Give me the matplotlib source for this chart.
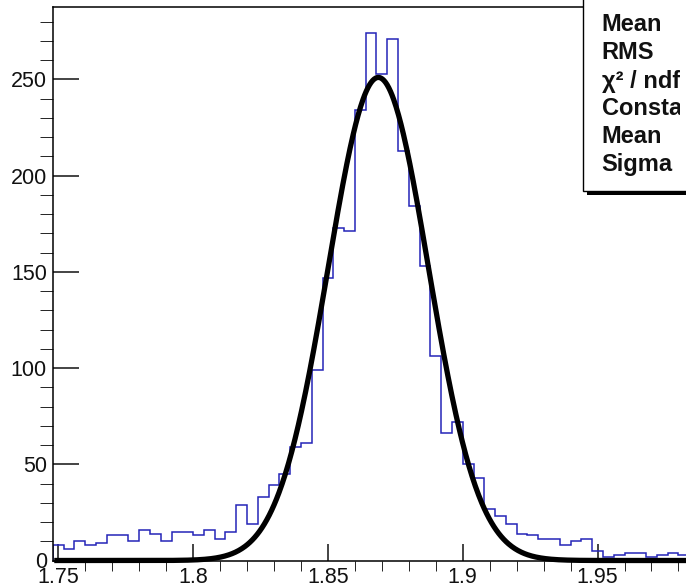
import numpy as np
import matplotlib.pyplot as plt
from matplotlib.patches import Rectangle
from matplotlib.ticker import MultipleLocator
from matplotlib.transforms import Bbox

plt.rcParams['font.family'] = ['Liberation Sans', 'DejaVu Sans']

# histogram: 0.004 wide bins starting at 1.748
bin_lo = 1.748
bin_w = 0.004
counts = [8, 6, 10, 8, 9, 13, 13, 10, 16, 14,
          10, 15, 15, 13, 16, 11, 15, 29, 19, 33,
          39, 45, 59, 61, 99, 147, 173, 171, 234, 274,
          253, 271, 213, 184, 153, 106, 66, 72, 50, 43,
          27, 23, 19, 14, 13, 11, 11, 8, 10, 11,
          5, 2, 3, 4, 4, 2, 3, 4, 3]

# gaussian fit
fit_const = 251.0
fit_mean = 1.8687
fit_sigma = 0.0186

x_ticks = [1.75, 1.8, 1.85, 1.9, 1.95]
x_ticklabels = ["1.75", "1.8", "1.85", "1.9", "1.95"]
y_ticks = [0, 50, 100, 150, 200, 250]

stat_labels = ["Mean", "RMS", "\u03c7\u00b2 / ndf", "Constant", "Mean", "Sigma"]

W, H = 686, 587
fig = plt.figure(figsize=(W / 100, H / 100), dpi=100)
# frame runs past the right edge of the picture (cropped like the original)
ax = fig.add_axes([52.9 / W, (H - 560.5) / H, (700 - 52.9) / W, (560.5 - 7) / H])

edges = bin_lo + bin_w * np.arange(len(counts) + 1)
ax.stairs(counts, edges, color='#2424b8', lw=1.1, zorder=2)

xf = np.linspace(1.7485, 1.988, 800)
yf = fit_const * np.exp(-0.5 * ((xf - fit_mean) / fit_sigma) ** 2)
ax.plot(xf, yf, color='black', lw=3.8, clip_on=False, zorder=3,
        solid_capstyle='butt')

ax.set_xlim(1.748, 1.988)
ax.set_ylim(0, 287.6)
ax.set_xticks(x_ticks)
ax.set_xticklabels(x_ticklabels)
ax.set_yticks(y_ticks)
ax.xaxis.set_minor_locator(MultipleLocator(0.01))
ax.yaxis.set_minor_locator(MultipleLocator(10))

for s in ax.spines.values():
    s.set_linewidth(1.1)

ax.tick_params(direction='in', labelsize=15.5, width=1.1, colors='#111111')
ax.tick_params(axis='y', which='major', length=18.5, pad=4.3)
ax.tick_params(axis='y', which='minor', length=9.3)
ax.tick_params(axis='x', which='major', length=12.5, pad=4.7)
ax.tick_params(axis='x', which='minor', length=7.2)

# stats box, top right, cut by the picture edge
shadow = Rectangle((586.5 / W, (H - 195) / H), 1, 0.5, transform=fig.transFigure,
                   facecolor='black', edgecolor='none', zorder=5)
box = Rectangle((583.3 / W, (H - 190.5) / H), 1, 0.5, transform=fig.transFigure,
                facecolor='white', edgecolor='black', lw=1.0, zorder=6)
fig.add_artist(shadow)
fig.add_artist(box)

# labels are clipped a little before the picture edge, as in the original
clip = Bbox([[0, 0], [680, H]])
baselines = [31, 59, 88, 115, 143, 171]
for lab, b in zip(stat_labels, baselines):
    t = fig.text(601.7 / W, (H - b) / H, lab, fontsize=17, fontweight='bold',
                 va='baseline', ha='left', color='#111111', zorder=7)
    t.set_clip_box(clip)
    t.set_clip_on(True)

fig.savefig('out.png', dpi=100)
